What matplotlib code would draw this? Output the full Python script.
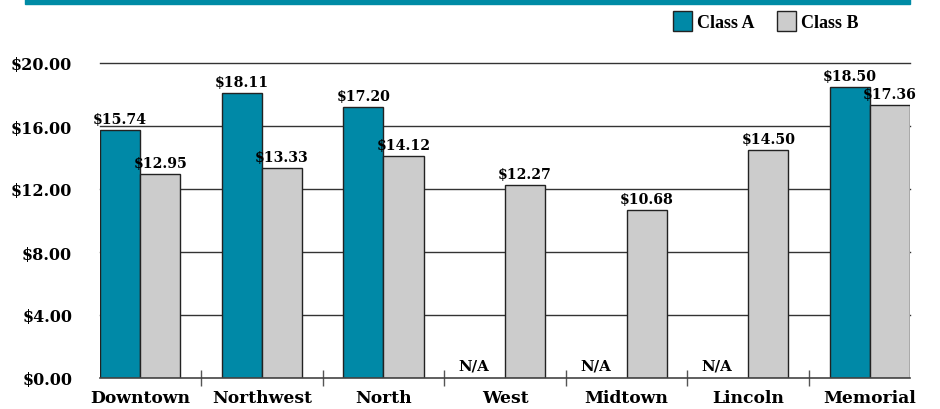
import matplotlib
matplotlib.use("Agg")
import matplotlib.pyplot as plt
from matplotlib.patches import Rectangle
import numpy as np

# data
categories = ["Downtown", "Northwest", "North", "West", "Midtown", "Lincoln", "Memorial"]
class_a = [15.74, 18.11, 17.20, None, None, None, 18.50]
class_b = [12.95, 13.33, 14.12, 12.27, 10.68, 14.50, 17.36]
y_ticks = [0, 4, 8, 12, 16, 20]

TEAL = "#0089a7"
GRAY = "#cccccc"
EDGE = "#222222"
SERIF = "DejaVu Serif"

fig = plt.figure(figsize=(9.4, 4.1), dpi=100)
ax = fig.add_axes([100 / 940, 31 / 410, 810 / 940, 315 / 410])

x = np.arange(len(categories))
w = 0.33

a_vals = [v if v is not None else 0 for v in class_a]
bars_a = ax.bar(x - w, a_vals, width=w, align="edge", color=TEAL,
                edgecolor=EDGE, linewidth=1, zorder=3)
bars_b = ax.bar(x, class_b, width=w, align="edge", color=GRAY,
                edgecolor=EDGE, linewidth=1, zorder=3)

for i, v in enumerate(class_a):
    if v is None:
        bars_a[i].set_visible(False)
        ax.text(x[i] - w / 2 - 0.09, 0.35, "N/A", ha="center", va="bottom",
                fontsize=10.8, fontweight="bold", family=SERIF, zorder=4)
    else:
        ax.text(x[i] - w / 2, v + 0.25, f"${v:.2f}", ha="center", va="bottom",
                fontsize=10.2, fontweight="bold", family=SERIF, zorder=4)

for i, v in enumerate(class_b):
    ax.text(x[i] + w / 2, v + 0.25, f"${v:.2f}", ha="center", va="bottom",
            fontsize=10.2, fontweight="bold", family=SERIF, zorder=4)

# grid
for t in y_ticks[1:]:
    ax.axhline(t, color="#333333", linewidth=1, zorder=1, clip_on=False)

ax.set_xlim(-w, len(categories) - 1 + w)
ax.set_ylim(0, 20)

ax.set_yticks(y_ticks)
ax.set_yticklabels([f"${t:.2f}" for t in y_ticks], fontsize=11.5,
                   fontweight="bold", family=SERIF)
ax.tick_params(axis="y", length=0, pad=20)

# separator ticks between groups
ax.set_xticks(x[:-1] + 0.5)
ax.set_xticklabels([])
ax.tick_params(axis="x", which="major", direction="inout", length=11,
               width=1, color="#555555")
ax.set_xticks(x, minor=True)
ax.set_xticklabels(categories, minor=True, fontsize=12.3, fontweight="bold",
                   family=SERIF)
ax.tick_params(axis="x", which="minor", length=0, pad=8)

for s in ["left", "right", "top"]:
    ax.spines[s].set_visible(False)
ax.spines["bottom"].set_color("#444444")
ax.spines["bottom"].set_linewidth(1.2)
ax.spines["bottom"].set_zorder(5)

# header band
fig.patches.append(Rectangle((25 / 940, 1 - 5 / 410), 885 / 940, 5 / 410,
                             transform=fig.transFigure, color="#008ba5",
                             zorder=0))

# legend
def legend_item(xpx, color, label):
    fig.patches.append(Rectangle((xpx / 940, 1 - 32 / 410), 19 / 940, 20 / 410,
                                 transform=fig.transFigure, facecolor=color,
                                 edgecolor=EDGE, linewidth=1))
    fig.text((xpx + 24) / 940, 1 - 23 / 410, label, ha="left", va="center",
             fontsize=13, fontweight="bold", family="Liberation Serif")

legend_item(673, TEAL, "Class A")
legend_item(777, GRAY, "Class B")

fig.savefig("out.png", dpi=100)
